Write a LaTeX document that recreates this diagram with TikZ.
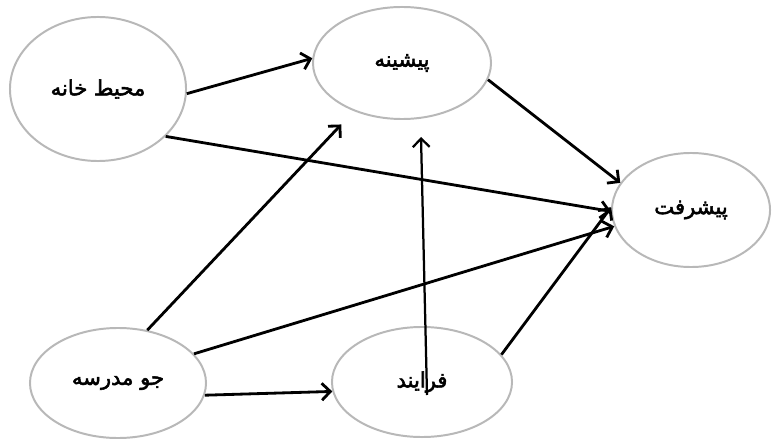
\documentclass[tikz,border=0pt]{standalone}
\usepackage{fontspec}
\usepackage{tikz}
\usetikzlibrary{arrows.meta,shapes.geometric}
\TeXXeTstate=1
\newfontfamily\farsi[Script=Arabic,FakeBold=2.5]{DejaVu Sans}
\tikzset{
  oval/.style={ellipse,draw=black!28,line width=1.4pt,inner sep=0pt,
    font=\farsi\fontsize{15}{17}\selectfont},
  arr/.style={line width=2pt,-{Straight Barb[length=6pt,width=12pt]}}
}
\begin{document}
\begin{tikzpicture}[x=0.025cm,y=-0.025cm]
\useasboundingbox[fill=white] (0,0) rectangle (776,439);
\node[oval,minimum width=4.4cm,minimum height=3.6cm] (home) at (98,89) {\beginR محیط خانه\endR};
\node[oval,minimum width=4.45cm,minimum height=2.8cm] (back) at (402,63) {\beginR پیشینه\endR};
\node[oval,minimum width=3.95cm,minimum height=2.85cm] (achieve) at (691,210) {\beginR پیشرفت\endR};
\node[oval,minimum width=4.4cm,minimum height=2.75cm] (school) at (118,383) {\beginR جو مدرسه\endR};
\node[oval,minimum width=4.5cm,minimum height=2.75cm] (proc) at (422,382) {\beginR فرایند\endR};
\coordinate (procin) at (427,395);
\coordinate (backout) at (421,137);

\draw[arr] (home.-3) -- (back.177);
\draw[arr] (home.-35) -- (achieve.181);
\draw[arr] (back.-11) -- (achieve.159);
\draw[arr,shorten >=13pt] (school.61) -- (back.225);
\draw[arr] (school.21) -- (achieve.192);
\draw[arr] (school.-8) -- (proc.186);
\draw[arr,line width=1.6pt] (procin) -- (backout);
\draw[arr] (proc.19) -- (achieve.178);
\end{tikzpicture}
\end{document}
